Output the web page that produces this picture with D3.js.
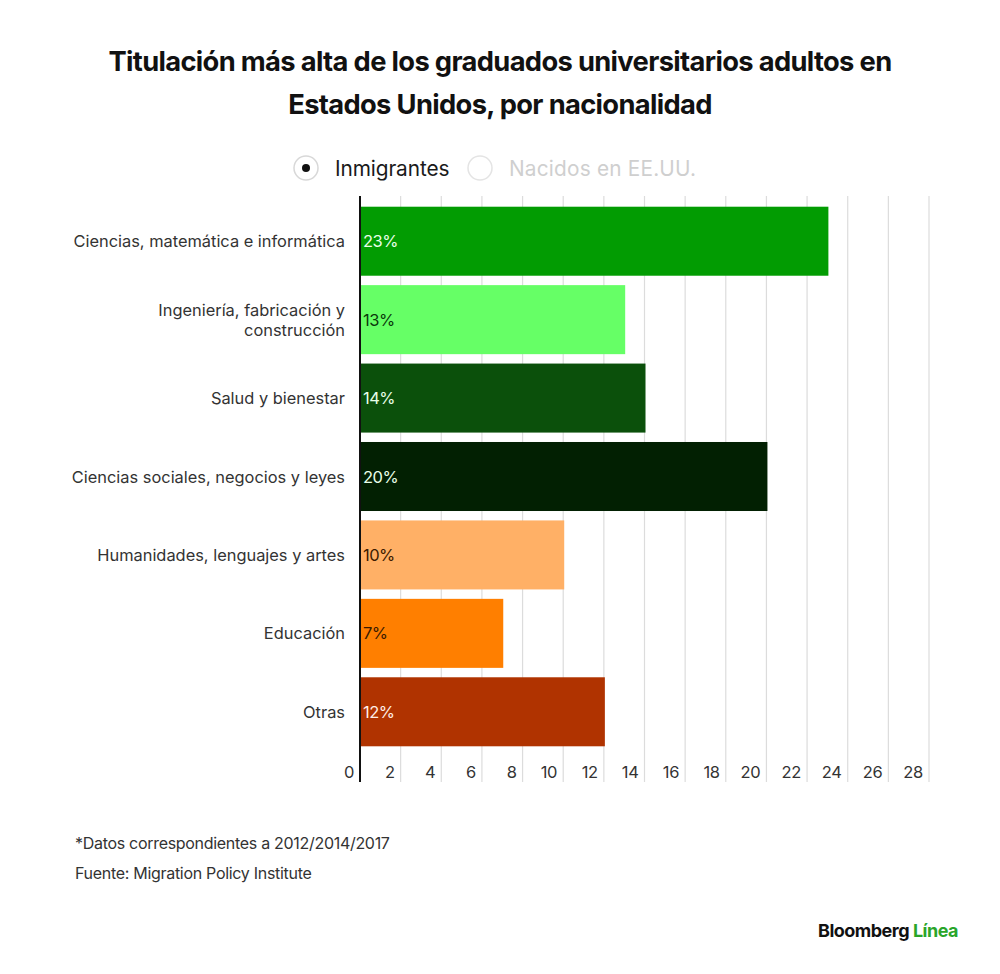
<!DOCTYPE html>
<html>
<head>
<meta charset="utf-8">
<script src="https://cdn.jsdelivr.net/npm/d3@7"></script>
<style>
  body { margin: 0; background: #fff; }
  text { font-family: Inter, "Noto Sans", sans-serif; }
</style>
</head>
<body>
<div id="chart"></div>
<script>
var width = 1000;
var height = 974;

// data
var categories = [
  ["Ciencias, matemática e informática"],
  ["Ingeniería, fabricación y", "construcción"],
  ["Salud y bienestar"],
  ["Ciencias sociales, negocios y leyes"],
  ["Humanidades, lenguajes y artes"],
  ["Educación"],
  ["Otras"]
];
var values = [23, 13, 14, 20, 10, 7, 12];
var barColors = ["#029c02", "#66ff66", "#0b500b", "#022002", "#ffb066", "#ff7f00", "#b03300"];
var labelColors = ["#e8ffe8", "#0b3a0b", "#e8ffe8", "#e8ffe8", "#3b1a00", "#3b1a00", "#ffeee6"];
var ticks = [0, 2, 4, 6, 8, 10, 12, 14, 16, 18, 20, 22, 24, 26, 28];
var legendItems = ["Inmigrantes", "Nacidos en EE.UU."];

var svg = d3.select("#chart").append("svg")
  .attr("width", width)
  .attr("height", height);

// title
var title = svg.append("text")
  .attr("text-anchor", "middle")
  .attr("font-weight", 700)
  .attr("font-size", 27.3)
  .attr("letter-spacing", -0.65)
  .attr("fill", "#111");
title.append("tspan").attr("x", 500).attr("y", 71)
  .text("Titulación más alta de los graduados universitarios adultos en");
title.append("tspan").attr("x", 500).attr("y", 114)
  .text("Estados Unidos, por nacionalidad");

// legend (radio buttons)
var legend = svg.append("g");
var legendX = [306, 480];
legendItems.forEach(function(name, i) {
  legend.append("circle")
    .attr("cx", legendX[i]).attr("cy", 168).attr("r", 12)
    .attr("fill", "#fff")
    .attr("stroke", i == 0 ? "#d8d8d8" : "#e4e4e4")
    .attr("stroke-width", 1.5);
  if (i == 0) {
    legend.append("circle")
      .attr("cx", legendX[i]).attr("cy", 168).attr("r", 4)
      .attr("fill", "#111");
  }
  legend.append("text")
    .attr("x", legendX[i] + 29).attr("y", 175.5)
    .attr("font-size", 20.8)
    .attr("letter-spacing", i == 0 ? -0.1 : 0.2)
    .attr("fill", i == 0 ? "#1a1a1a" : "#cfcfcf")
    .text(name);
});

// scales
var x = d3.scaleLinear().domain([0, 28]).range([360, 929]);
var y = d3.scaleBand()
  .domain(d3.range(values.length))
  .range([202, 751])
  .paddingInner(0.12)
  .paddingOuter(0.06);

// grid lines
svg.append("g").selectAll("line")
  .data(ticks.slice(1))
  .enter().append("line")
  .attr("x1", function(d) { return x(d); })
  .attr("x2", function(d) { return x(d); })
  .attr("y1", 196).attr("y2", 782)
  .attr("stroke", "#dcdcdc")
  .attr("stroke-width", 1.2);

// bars
svg.append("g").selectAll("rect")
  .data(values)
  .enter().append("rect")
  .attr("x", x(0))
  .attr("y", function(d, i) { return y(i); })
  .attr("width", function(d) { return x(d) - x(0) + 1; })
  .attr("height", y.bandwidth())
  .attr("fill", function(d, i) { return barColors[i]; });

// value labels inside bars
svg.append("g").selectAll("text")
  .data(values)
  .enter().append("text")
  .attr("x", x(0) + 3)
  .attr("y", function(d, i) { return y(i) + y.bandwidth() / 2 + 6; })
  .attr("font-size", 16.5)
  .attr("letter-spacing", -0.5)
  .attr("fill", function(d, i) { return labelColors[i]; })
  .text(function(d) { return d + "%"; });

// category labels
var cat = svg.append("g").selectAll("text")
  .data(categories)
  .enter().append("text")
  .attr("text-anchor", "end")
  .attr("font-size", 16.4)
  .attr("letter-spacing", 0)
  .attr("fill", "#333");
cat.each(function(lines, i) {
  var t = d3.select(this);
  var cy = y(i) + y.bandwidth() / 2;
  lines.forEach(function(l, j) {
    t.append("tspan")
      .attr("x", 345)
      .attr("y", cy + 6 + (j - (lines.length - 1) / 2) * 20)
      .text(l);
  });
});

// x axis labels
svg.append("g").selectAll("text")
  .data(ticks)
  .enter().append("text")
  .attr("text-anchor", "end")
  .attr("x", function(d) { return x(d) - 6; })
  .attr("y", 778)
  .attr("font-size", 16.5)
  .attr("letter-spacing", -0.3)
  .attr("fill", "#333")
  .text(function(d) { return d; });

// y axis line
svg.append("line")
  .attr("x1", x(0)).attr("x2", x(0))
  .attr("y1", 196).attr("y2", 782)
  .attr("stroke", "#111")
  .attr("stroke-width", 2);

// footnotes
svg.append("text")
  .attr("x", 75).attr("y", 849)
  .attr("font-size", 16)
  .attr("letter-spacing", -0.3)
  .attr("fill", "#333")
  .text("*Datos correspondientes a 2012/2014/2017");
svg.append("text")
  .attr("x", 75).attr("y", 879)
  .attr("font-size", 16)
  .attr("letter-spacing", -0.3)
  .attr("fill", "#333")
  .text("Fuente: Migration Policy Institute");

// logo
var logo = svg.append("text")
  .attr("x", 958).attr("y", 937)
  .attr("text-anchor", "end")
  .attr("font-size", 18)
  .attr("font-weight", 700)
  .attr("letter-spacing", -0.5);
logo.append("tspan").attr("fill", "#111").text("Bloomberg ");
logo.append("tspan").attr("fill", "#2aa52a").text("Línea");
</script>
</body>
</html>
